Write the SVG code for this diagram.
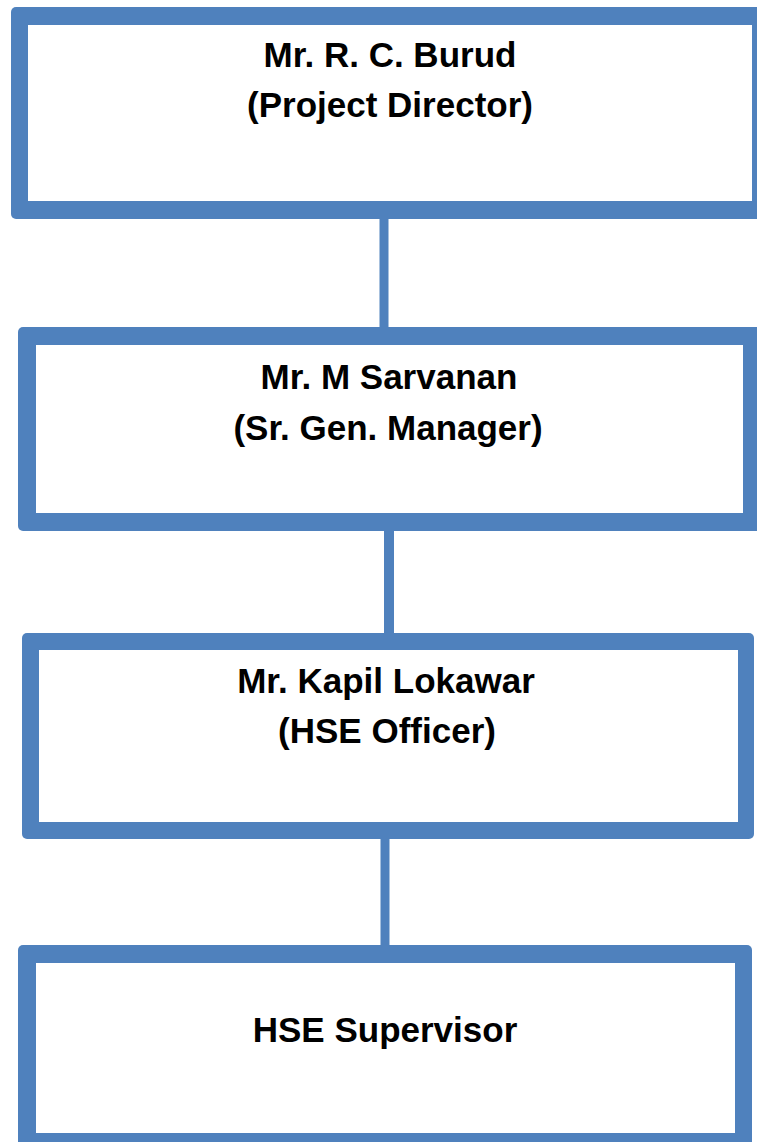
<svg xmlns="http://www.w3.org/2000/svg" width="757" height="1142" viewBox="0 0 757 1142">
  <style>
    .frame { fill: #4F81BD; }
    .inner { fill: #FFFFFF; }
    .conn { stroke: #4F81BD; stroke-width: 9; fill: none; }
    .lbl { font-family: "Liberation Sans", Arial, sans-serif; font-weight: bold; font-size: 35px; fill: #000000; text-anchor: middle; }
  </style>
  <rect x="0" y="0" width="757" height="1142" fill="#FFFFFF"/>
  <g id="connectors">
    <line class="conn" x1="384" y1="215" x2="384" y2="331"/>
    <line class="conn" x1="389" y1="527" x2="389" y2="637" style="stroke-width:10"/>
    <line class="conn" x1="385" y1="835" x2="385" y2="949"/>
  </g>
  <g id="node-project-director">
    <rect class="frame" x="11" y="7" width="759" height="212" rx="5"/>
    <rect class="inner" x="28" y="25" width="724" height="176"/>
    <text class="lbl" x="390" y="67">Mr. R. C. Burud</text>
    <text class="lbl" x="390" y="117">(Project Director)</text>
  </g>
  <g id="node-sr-gen-manager">
    <rect class="frame" x="18" y="327" width="743" height="204" rx="5"/>
    <rect class="inner" x="36" y="345" width="707" height="168"/>
    <text class="lbl" x="389" y="389">Mr. M Sarvanan</text>
    <text class="lbl" x="388" y="440">(Sr. Gen. Manager)</text>
  </g>
  <g id="node-hse-officer">
    <rect class="frame" x="22" y="633" width="732" height="206" rx="5"/>
    <rect class="inner" x="39" y="650" width="699" height="172"/>
    <text class="lbl" x="386" y="693">Mr. Kapil Lokawar</text>
    <text class="lbl" x="387" y="743">(HSE Officer)</text>
  </g>
  <g id="node-hse-supervisor">
    <rect class="frame" x="18" y="945" width="734" height="210" rx="5"/>
    <rect class="inner" x="36" y="963" width="699" height="170"/>
    <text class="lbl" x="385" y="1042">HSE Supervisor</text>
  </g>
</svg>
